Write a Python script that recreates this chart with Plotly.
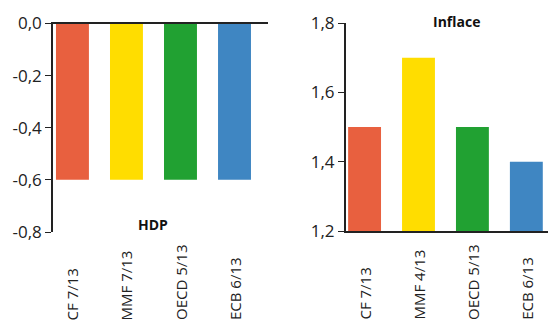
"""
Prognózy HDP a inflace - dva sloupcové grafy vedle sebe
"""

import plotly.graph_objects as go

# Data
hdp_kategorie = ['CF 7/13', 'MMF 7/13', 'OECD 5/13', 'ECB 6/13']
hdp_hodnoty = [-0.6, -0.6, -0.6, -0.6]
hdp_ticky = [-0.8, -0.6, -0.4, -0.2, 0.0]

inflace_kategorie = ['CF 7/13', 'MMF 4/13', 'OECD 5/13', 'ECB 6/13']
inflace_hodnoty = [1.5, 1.7, 1.5, 1.4]
inflace_ticky = [1.2, 1.4, 1.6, 1.8]
inflace_zaklad = 1.2

barvy = ['#E8603F', '#FFDD00', '#21A132', '#3F86C2']

FONT = 'Open Sans'
# stránka má okraj 8 px, graf proto o 8 px menší
OKRAJ = 8
W, H = 556 - OKRAJ, 322 - OKRAJ


def px(x):
    return (x - OKRAJ) / W


def py(y):
    return 1 - (y - OKRAJ) / H


def popisek(v):
    # desetinná čárka a obyčejný spojovník místo minus
    return f'{v:.1f}'.replace('.', ',')


fig = go.Figure()

fig.add_bar(x=hdp_kategorie, y=hdp_hodnoty, marker=dict(color=barvy, line=dict(width=0)),
            width=0.61, xaxis='x', yaxis='y', showlegend=False)
# sloupce inflace začínají na 1,2
fig.add_bar(x=inflace_kategorie, y=[v - inflace_zaklad for v in inflace_hodnoty],
            base=inflace_zaklad, marker=dict(color=barvy, line=dict(width=0)),
            width=0.61, xaxis='x2', yaxis='y2', showlegend=False)

osa = dict(showline=True, linecolor='#222222', linewidth=1.5, showgrid=False,
           zeroline=False, automargin=False)
tick_font = dict(family=FONT, size=17, color='#222222')

fig.update_layout(
    width=W, height=H,
    margin=dict(l=0, r=0, t=0, b=0),
    paper_bgcolor='white', plot_bgcolor='white',
    font=dict(family=FONT, size=16, color='#222222'),
    xaxis=dict(domain=[px(53), px(268)], range=[-0.36, 3.62], side='top',
               showticklabels=False, ticks='', anchor='y', **osa),
    yaxis=dict(domain=[py(232), py(23.5)], range=[-0.8, 0], tickvals=hdp_ticky,
               ticktext=[popisek(v) for v in hdp_ticky], tickfont=tick_font,
               ticks='outside', ticklen=6, tickcolor='#222222', anchor='x', **osa),
    xaxis2=dict(domain=[px(345.7), 1], range=[-0.35, 3.55], showticklabels=False,
                ticks='', anchor='y2', **osa),
    yaxis2=dict(domain=[py(231), py(23)], range=[1.2, 1.8], tickvals=inflace_ticky,
                ticktext=[popisek(v) for v in inflace_ticky], tickfont=tick_font,
                ticks='outside', ticklen=6, tickcolor='#222222', anchor='x2', **osa),
)

# Popisky kategorií (otočené, zarovnané ke spodnímu okraji)
for osa_x, kategorie in (('x', hdp_kategorie), ('x2', inflace_kategorie)):
    for i, k in enumerate(kategorie):
        fig.add_annotation(x=i, y=py(322), xref=osa_x, yref='paper', text=k, textangle=-90,
                           showarrow=False, xanchor='center', yanchor='bottom',
                           font=dict(family=FONT, size=15, color='#222222'))

# Nadpisy
fig.add_annotation(x=1.5, y=-0.77, xref='x', yref='y', text='<b>HDP</b>', showarrow=False,
                   xanchor='center', yanchor='middle',
                   font=dict(family=FONT, size=14, color='#111111'))
fig.add_annotation(x=px(456), y=py(22), xref='paper', yref='paper', text='<b>Inflace</b>',
                   showarrow=False, xanchor='center', yanchor='middle',
                   font=dict(family=FONT, size=14, color='#111111'))

fig.write_html("out.html")
